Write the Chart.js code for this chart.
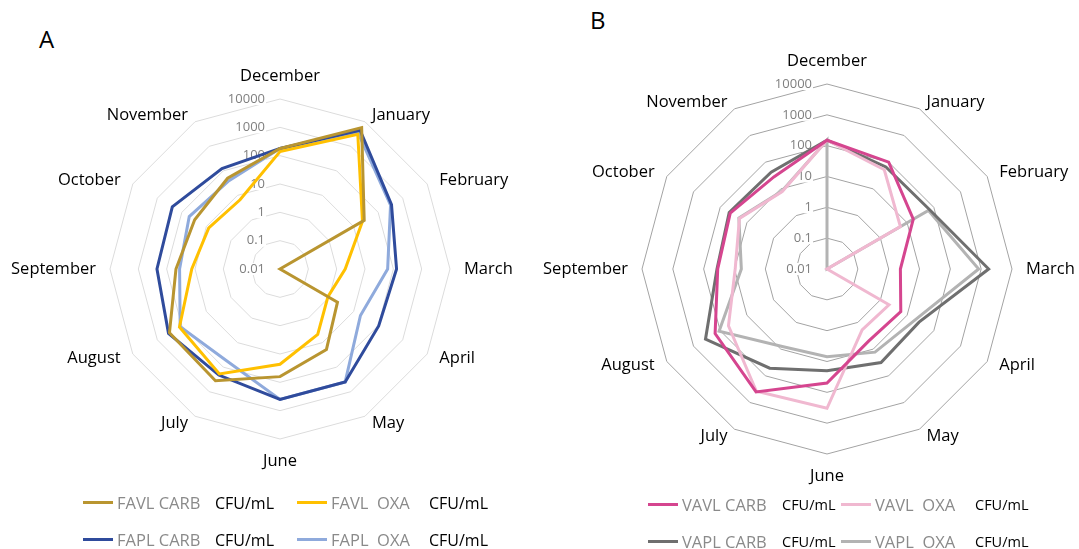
<!DOCTYPE html>
<html>
<head>
<meta charset="utf-8">
<script src="https://cdn.jsdelivr.net/npm/chart.js@4.4.1/dist/chart.umd.min.js"></script>
<style>
  html, body { margin: 0; padding: 0; background: #fff; }
  body { width: 1079px; height: 549px; position: relative; overflow: hidden; font-family: "Open Sans", sans-serif; }
  canvas { position: absolute; top: 0; }
  #chartA { left: 0; }
  #chartB { left: 540px; }
  .panel-letter { position: absolute; font-size: 24px; line-height: 1; color: #000; }
  .legend-item { position: absolute; height: 24px; white-space: pre; }
  .legend-item .swatch { position: absolute; left: 0; top: 10px; width: 30px; height: 3px; }
  .legend-item .name { position: absolute; left: 34px; top: 0; line-height: 24px; color: #8a8a8a; font-size: 16.5px; }
  .legend-item .unit { position: absolute; top: 0; line-height: 24px; color: #000; }
</style>
</head>
<body>
<div class="panel-letter" style="left:39px; top:27px;">A</div>
<div class="panel-letter" style="left:590px; top:8px;">B</div>
<canvas id="chartA" width="540" height="549"></canvas>
<canvas id="chartB" width="539" height="549"></canvas>
<div id="legendA"></div>
<div id="legendB"></div>
<script>
const months = ['December', 'January', 'February', 'March', 'April', 'May',
                'June', 'July', 'August', 'September', 'October', 'November'];
const tickValues = [0.01, 0.1, 1, 10, 100, 1000, 10000];

// Panel A counts, CFU/mL
const favlCarb = [180, 5800, 27, 0.01, 2.2, 19, 63, 360, 320, 47, 30, 50];
const favlOxa  = [140, 3100, 23, 2.0, 0.9, 4.6, 23, 190, 125, 13, 8, 6.6];
const faplCarb = [180, 4500, 350, 130, 105, 400, 400, 210, 350, 220, 245, 125];
const faplOxa  = [180, 3400, 320, 63, 19, 400, 400, 56, 117, 35, 50, 40];

// Panel B counts, CFU/mL
const vavlCarb = [150, 100, 17, 2.4, 5.8, 5, 50, 400, 155, 35, 42, 28];
const vavlOxa  = [150, 52, 5.6, 0.01, 2.1, 1.9, 330, 380, 49, 9.5, 19, 8];
const vaplCarb = [150, 66, 70, 1750, 28, 32, 20, 52, 355, 37, 46, 42];
const vaplOxa  = [150, 0.01, 63, 830, 20, 13, 7, 8, 110, 6, 20, 8.3];

const namesA = ['FAVL CARB', 'FAVL  OXA', 'FAPL CARB', 'FAPL  OXA'];
const colorsA = ['#b99530', '#ffc000', '#2f4b9c', '#8faadc'];
const namesB = ['VAVL CARB', 'VAVL  OXA', 'VAPL CARB', 'VAPL  OXA'];
const colorsB = ['#d5458f', '#f0b8d0', '#6f6f6f', '#b3b3b3'];

// radial axis is linear in decades: 0.01 sits at the centre, 10000 on the rim
function toLogUnits(v) {
    return Math.log10(v) + 2;
}

// tick and month labels placed the way the spreadsheet radar lays them out
const radarText = {
    id: 'radarText',
    beforeDatasetsDraw(chart, args, opts) {
        const scale = chart.scales.r;
        const ctx = chart.ctx;
        ctx.save();

        ctx.font = opts.tickFont;
        ctx.textAlign = 'right';
        ctx.textBaseline = 'middle';
        tickValues.forEach(v => {
            const y = scale.yCenter - scale.getDistanceFromCenterForValue(toLogUnits(v));
            const x = scale.xCenter - opts.tickOffset;
            const label = String(v);
            if (opts.backdrop) {
                const w = ctx.measureText(label).width;
                ctx.fillStyle = '#fff';
                ctx.fillRect(x - w - 1, y - 6, w + 2, 12);
            }
            ctx.fillStyle = opts.tickColor;
            ctx.fillText(label, x, y);
        });

        ctx.font = opts.labelFont;
        ctx.fillStyle = '#000';
        months.forEach((m, i) => {
            const deg = i * 360 / months.length;
            const p = scale.getPointPosition(i, scale.drawingArea + opts.labelGap);
            let y = p.y;
            if (deg === 0) {
                ctx.textAlign = 'center';
                ctx.textBaseline = 'bottom';
            } else if (deg === 180) {
                ctx.textAlign = 'center';
                ctx.textBaseline = 'top';
            } else {
                ctx.textAlign = deg < 180 ? 'left' : 'right';
                ctx.textBaseline = 'middle';
                y += 6 * Math.cos(deg * Math.PI / 180);
            }
            ctx.fillText(m, p.x, y);
        });
        ctx.restore();
    }
};

function makeRadar(canvasId, series, names, colors, padding, gridColor) {
    return new Chart(document.getElementById(canvasId), {
        type: 'radar',
        data: {
            labels: months,
            datasets: series.map((arr, i) => ({
                label: names[i],
                data: arr.map(toLogUnits),
                borderColor: colors[i],
                backgroundColor: colors[i],
                borderWidth: 3,
                pointRadius: 0,
                fill: false,
                tension: 0
            }))
        },
        options: {
            responsive: false,
            animation: false,
            events: [],
            layout: { padding },
            scales: {
                r: {
                    min: 0,
                    max: 6,
                    ticks: { display: false, stepSize: 1 },
                    grid: { color: gridColor, lineWidth: 1 },
                    angleLines: { display: false },
                    pointLabels: { display: false }
                }
            },
            plugins: {
                legend: { display: false },
                tooltip: { enabled: false },
                radarText: {
                    tickFont: '13px "Open Sans"',
                    tickColor: '#7f7f7f',
                    tickOffset: 15,
                    backdrop: true,
                    labelFont: '16.5px "Open Sans"',
                    labelGap: 14
                }
            }
        },
        plugins: [radarText]
    });
}

makeRadar('chartA', [favlCarb, favlOxa, faplCarb, faplOxa], namesA, colorsA,
          { left: 110, right: 90, top: 99, bottom: 110 }, '#dcdcdc');
makeRadar('chartB', [vavlCarb, vavlOxa, vaplCarb, vaplOxa], namesB, colorsB,
          { left: 102, right: 67, top: 84, bottom: 95 }, '#a3a3a3');

function buildLegend(id, names, colors, cols, rows, unitOffset, unitSize) {
    const box = document.getElementById(id);
    names.forEach((name, i) => {
        const item = document.createElement('div');
        item.className = 'legend-item';
        item.style.left = cols[i % 2] + 'px';
        item.style.top = (rows[Math.floor(i / 2)] - 12) + 'px';
        item.innerHTML = '<span class="swatch" style="background:' + colors[i] + '"></span>' +
            '<span class="name">' + name + '</span>' +
            '<span class="unit" style="left:' + unitOffset + 'px; font-size:' + unitSize + 'px">CFU/mL</span>';
        box.appendChild(item);
    });
}

buildLegend('legendA', namesA, colorsA, [83, 297], [503, 540], 132, 16);
buildLegend('legendB', namesB, colorsB, [648, 841], [505, 542], 134, 14.5);
</script>
</body>
</html>
